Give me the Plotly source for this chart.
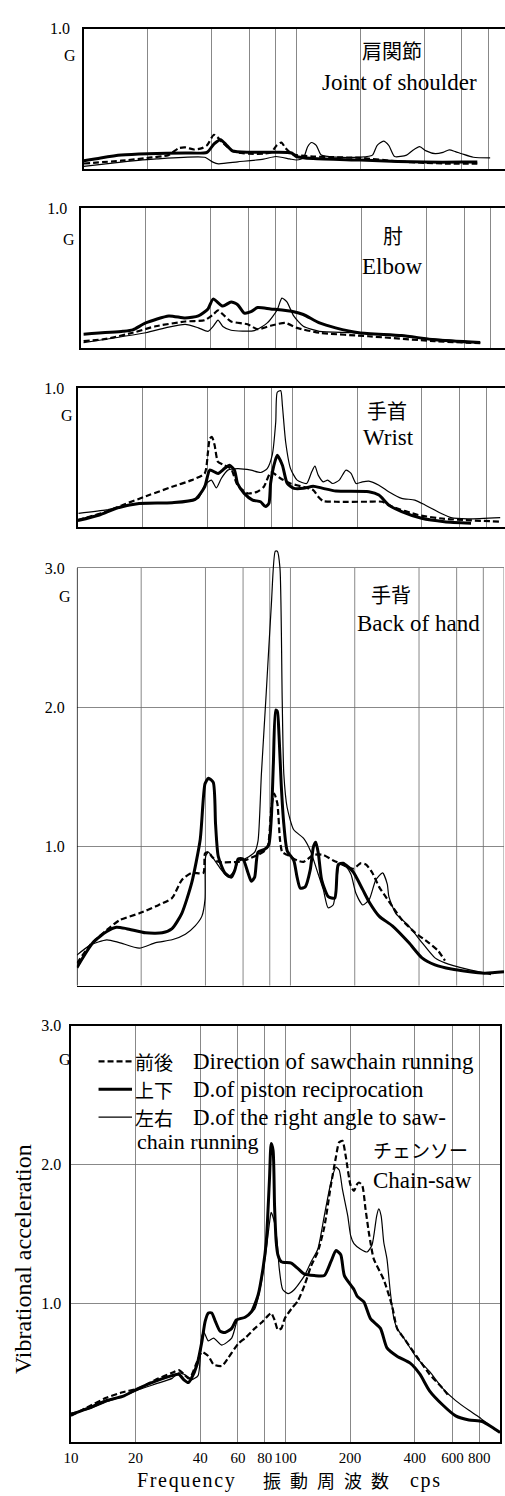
import plotly.graph_objects as go

# ---------------- data (frequency in cps, acceleration in G) ----------------
# Panel 1: 肩関節 Joint of shoulder
sh_f_dash = [10, 15, 20, 25, 28, 30, 33, 36, 38, 41, 45, 50, 55, 60, 70, 76, 81, 85, 89, 95, 100, 120, 150, 200, 300, 400, 500, 710]
sh_g_dash = [0.04, 0.06, 0.08, 0.10, 0.15, 0.155, 0.14, 0.15, 0.17, 0.245, 0.19, 0.13, 0.115, 0.11, 0.11, 0.12, 0.17, 0.19, 0.15, 0.11, 0.10, 0.09, 0.085, 0.08, 0.055, 0.045, 0.04, 0.04]
sh_f_thick = [10, 12, 15, 20, 30, 38, 41, 44, 47, 50, 60, 80, 95, 100, 120, 200, 300, 400, 600, 710]
sh_g_thick = [0.06, 0.08, 0.10, 0.11, 0.115, 0.12, 0.18, 0.21, 0.17, 0.13, 0.12, 0.12, 0.115, 0.09, 0.075, 0.065, 0.055, 0.05, 0.05, 0.05]
sh_f_thin = [10, 15, 22, 37, 40.5, 43, 53, 70, 80, 93, 100, 108, 113, 118, 124, 131, 153, 200, 228, 240, 257, 272, 290, 330, 350, 380, 408, 450, 490, 524, 560, 600, 680, 816]
sh_g_thin = [0.02, 0.05, 0.073, 0.085, 0.05, 0.038, 0.052, 0.071, 0.09, 0.073, 0.065, 0.08, 0.16, 0.19, 0.17, 0.10, 0.085, 0.085, 0.10, 0.17, 0.20, 0.17, 0.09, 0.10, 0.13, 0.16, 0.13, 0.11, 0.12, 0.137, 0.125, 0.11, 0.085, 0.08]

# Panel 2: 肘 Elbow
el_f_dash = [10.3, 13.1, 17.4, 22.2, 30.5, 37.6, 41.1, 43.3, 46.4, 49.8, 59.4, 66.1, 75.9, 88.8, 100.5, 128, 216, 438, 713]
el_g_dash = [0.05, 0.066, 0.11, 0.156, 0.19, 0.20, 0.24, 0.27, 0.23, 0.19, 0.17, 0.135, 0.16, 0.18, 0.145, 0.11, 0.085, 0.05, 0.035]
el_f_thick = [10.3, 15.7, 17.4, 20, 25.6, 30.5, 35.1, 38.9, 41.1, 45.6, 49.8, 53.4, 57.3, 61.6, 66.1, 75.9, 97.2, 107.7, 128, 152, 195, 308, 438, 713]
el_g_thick = [0.10, 0.12, 0.13, 0.18, 0.23, 0.215, 0.23, 0.28, 0.35, 0.30, 0.33, 0.31, 0.25, 0.26, 0.29, 0.28, 0.26, 0.24, 0.18, 0.145, 0.11, 0.09, 0.06, 0.04]
el_f_thin = [10.3, 20, 24.7, 30.5, 35.1, 38.9, 41.1, 43.3, 45.6, 49.8, 63.8, 73.3, 81.3, 85.7, 90.4, 97.2, 107.7, 128, 182, 308, 713]
el_g_thin = [0.04, 0.11, 0.145, 0.17, 0.145, 0.12, 0.155, 0.20, 0.155, 0.128, 0.125, 0.18, 0.27, 0.357, 0.33, 0.23, 0.156, 0.12, 0.11, 0.085, 0.04]

# Panel 3: 手首 Wrist
wr_f_dash = [10.0, 13.6, 16.2, 21.5, 27.5, 33.9, 39.0, 40.4, 41.2, 42.2, 43.4, 45.0, 48.2, 51.7, 55.5, 61.8, 68.6, 73.6, 79.1, 82.0, 88.2, 98, 112.4, 125, 131.9, 139, 159.6, 227, 262, 291, 386, 511, 930]
wr_g_dash = [0.052, 0.112, 0.16, 0.231, 0.29, 0.338, 0.386, 0.54, 0.636, 0.648, 0.588, 0.469, 0.445, 0.421, 0.302, 0.243, 0.255, 0.291, 0.393, 0.386, 0.35, 0.314, 0.29, 0.267, 0.219, 0.188, 0.183, 0.183, 0.183, 0.148, 0.088, 0.06, 0.04]
wr_f_thick = [10.0, 12.6, 15.1, 19.3, 27.5, 35.2, 39.0, 41.2, 45.0, 48.2, 50.9, 53.7, 55.5, 59.6, 65.2, 71.0, 74.9, 77.7, 79.1, 82.0, 85.0, 89.8, 94.6, 101.6, 112.4, 125, 139, 159.6, 227, 253, 281, 323, 400, 511, 680]
wr_g_thick = [0.048, 0.088, 0.136, 0.171, 0.176, 0.20, 0.29, 0.41, 0.386, 0.421, 0.445, 0.41, 0.314, 0.243, 0.195, 0.183, 0.148, 0.171, 0.314, 0.445, 0.517, 0.445, 0.314, 0.279, 0.279, 0.295, 0.279, 0.26, 0.255, 0.231, 0.16, 0.112, 0.064, 0.04, 0.029]
wr_f_thin = [10.07, 13.6, 16.2, 19.3, 27.5, 36.4, 39.0, 41.9, 44.2, 46.6, 50.0, 55.5, 64.1, 71.0, 76.3, 80.5, 83.6, 85.0, 88.2, 89.8, 93.0, 98, 105.2, 116.5, 123, 127.3, 131.9, 139, 146, 154, 165.3, 177.7, 187.6, 197.9, 212, 227, 253, 281, 323, 372, 415, 492, 548, 656, 930]
wr_g_thin = [0.10, 0.124, 0.148, 0.167, 0.176, 0.207, 0.302, 0.338, 0.283, 0.35, 0.41, 0.421, 0.41, 0.393, 0.421, 0.517, 0.755, 0.969, 0.981, 0.874, 0.612, 0.421, 0.338, 0.314, 0.398, 0.438, 0.374, 0.326, 0.338, 0.314, 0.338, 0.41, 0.386, 0.314, 0.326, 0.331, 0.302, 0.255, 0.207, 0.195, 0.16, 0.10, 0.069, 0.06, 0.069]

# Panel 4: 手背 Back of hand
bh_f_dash = [10, 11.5, 13.8, 15.8, 19.6, 23.4, 27.9, 31.0, 34.5, 39.1, 39.8, 41.3, 42.7, 45.9, 56.9, 61.0, 70.5, 75.8, 78.6, 81.4, 83.9, 86.8, 89.3, 91.5, 96.5, 107.4, 115.2, 128.2, 142.5, 158.5, 176.3, 196, 214, 226, 242, 260, 279, 300, 334, 384, 443, 492, 529]
bh_g_dash = [0.16, 0.29, 0.40, 0.47, 0.52, 0.57, 0.63, 0.76, 0.81, 0.81, 0.95, 0.96, 0.93, 0.89, 0.89, 0.90, 0.94, 0.97, 1.01, 1.28, 1.38, 1.31, 1.05, 0.96, 0.94, 0.90, 0.89, 0.94, 0.94, 0.90, 0.87, 0.84, 0.88, 0.87, 0.81, 0.71, 0.64, 0.57, 0.47, 0.38, 0.31, 0.25, 0.18]
bh_f_thick = [10, 11.9, 13.8, 15.3, 17.1, 21.0, 25.1, 27.9, 31.0, 34.5, 37.8, 39.8, 41.3, 43.5, 44.6, 45.9, 49.3, 52.9, 54.9, 56.9, 59.9, 63.3, 65.6, 68.0, 70.5, 75.8, 79.1, 81.4, 83.2, 85.3, 86.8, 88.4, 90.5, 93.1, 96.5, 103.6, 107.4, 111.2, 117.3, 123.7, 128.2, 131.4, 135.1, 140.0, 150.3, 161.3, 167.2, 176.3, 196, 218, 234, 260, 300, 358, 413, 475, 567, 809, 1000]
bh_g_thick = [0.13, 0.31, 0.39, 0.42, 0.41, 0.38, 0.38, 0.41, 0.52, 0.74, 1.05, 1.45, 1.49, 1.46, 1.16, 0.93, 0.81, 0.78, 0.83, 0.91, 0.91, 0.81, 0.75, 0.78, 0.96, 0.98, 1.01, 1.21, 1.6, 1.98, 1.97, 1.8, 1.45, 1.16, 0.97, 0.90, 0.78, 0.70, 0.71, 0.83, 1.0, 1.03, 0.95, 0.76, 0.64, 0.63, 0.87, 0.88, 0.82, 0.69, 0.60, 0.50, 0.43, 0.31, 0.20, 0.15, 0.12, 0.09, 0.10]
bh_f_thin = [10, 11.5, 13.8, 15.8, 19.6, 23.4, 27.9, 32.2, 35.8, 38.5, 39.8, 40.1, 41.3, 44.2, 47.6, 51.1, 54.9, 56.9, 61.0, 68.0, 70.5, 73.1, 77.0, 81.4, 84.9, 86.8, 89.3, 91.5, 93.1, 96.5, 103.6, 115, 124, 133, 142.5, 150, 158.5, 164, 170, 183, 192, 203, 218, 234, 251, 270, 284, 289, 311, 358, 413, 475, 529, 677, 868]
bh_g_thin = [0.22, 0.29, 0.33, 0.31, 0.27, 0.31, 0.33, 0.37, 0.43, 0.50, 0.62, 0.93, 0.96, 0.90, 0.83, 0.78, 0.83, 0.89, 0.91, 0.96, 1.04, 1.52, 2.1, 2.74, 3.12, 3.12, 3.0, 2.05, 1.52, 1.28, 1.12, 1.06, 0.97, 0.83, 0.69, 0.56, 0.58, 0.73, 0.87, 0.85, 0.80, 0.66, 0.58, 0.62, 0.76, 0.81, 0.73, 0.64, 0.52, 0.43, 0.31, 0.20, 0.164, 0.117, 0.08]

# Panel 5: チェンソー Chain-saw
cs_f_dash = [10, 12.2, 14.6, 17.4, 20.8, 24.8, 29.6, 31.8, 33.6, 35.2, 36.4, 38.7, 40.8, 43.7, 46.2, 50.5, 54.2, 60.2, 64.8, 71.9, 77.1, 82.7, 85.7, 88.9, 92.1, 95.6, 99.1, 106.4, 114.3, 122.6, 131.6, 141.3, 151.6, 162.7, 171.6, 177.8, 184.2, 190.8, 201, 208.4, 216, 220, 227.7, 235.9, 244.5, 248.8, 257.7, 287, 314, 331, 356, 408, 469, 539, 579]
cs_g_dash = [0.19, 0.26, 0.32, 0.36, 0.39, 0.45, 0.50, 0.52, 0.49, 0.46, 0.48, 0.58, 0.65, 0.62, 0.56, 0.55, 0.61, 0.71, 0.75, 0.82, 0.86, 0.91, 0.93, 0.88, 0.81, 0.82, 0.89, 0.96, 1.02, 1.13, 1.27, 1.37, 1.55, 1.85, 2.05, 2.16, 2.17, 2.06, 1.85, 1.81, 1.86, 1.87, 1.85, 1.68, 1.51, 1.44, 1.32, 1.17, 0.98, 0.82, 0.75, 0.62, 0.49, 0.39, 0.33]
cs_f_thick = [10, 12.2, 14.6, 17.4, 20.8, 24.8, 29.6, 31.8, 33.6, 35.2, 36.4, 38.7, 40.8, 42.2, 43.7, 45.3, 47.1, 49.5, 52.3, 56.1, 59.0, 64.8, 69.4, 74.5, 78.5, 81.3, 84.2, 85.7, 87.5, 88.9, 90.5, 92.1, 95.6, 106.4, 114.3, 122.6, 136.3, 151.6, 162.7, 172, 180.9, 188, 208.4, 216, 231.8, 248.8, 277, 297, 331, 381, 423, 469, 539, 621, 716, 826, 915, 1000]
cs_g_thick = [0.20, 0.25, 0.30, 0.33, 0.39, 0.44, 0.48, 0.49, 0.45, 0.43, 0.46, 0.56, 0.73, 0.87, 0.93, 0.93, 0.87, 0.80, 0.79, 0.82, 0.88, 0.90, 0.94, 1.06, 1.25, 1.44, 1.9, 2.15, 2.1, 1.7, 1.44, 1.35, 1.30, 1.29, 1.25, 1.21, 1.20, 1.20, 1.30, 1.38, 1.35, 1.20, 1.10, 1.05, 1.01, 0.89, 0.82, 0.68, 0.62, 0.57, 0.49, 0.37, 0.27, 0.19, 0.16, 0.15, 0.11, 0.07]
cs_f_thin = [10, 12.2, 14.6, 17.4, 20.8, 24.8, 29.6, 31.8, 33.6, 35.2, 36.4, 39.1, 40.8, 41.7, 43.7, 46.2, 50.5, 56.1, 60.2, 64.8, 71.9, 77.1, 81.3, 84.2, 85.7, 88.9, 91.4, 93.5, 97, 102.7, 110, 122.6, 131.6, 141.3, 151.6, 162.7, 171.6, 177.8, 184.2, 195, 201, 208.4, 224, 240, 253, 266, 272, 279, 287, 297, 308, 320, 331, 356, 408, 469, 539, 621, 716, 800, 915, 1000]
cs_g_thin = [0.21, 0.24, 0.29, 0.33, 0.38, 0.42, 0.46, 0.50, 0.49, 0.47, 0.45, 0.48, 0.77, 0.79, 0.73, 0.75, 0.70, 0.75, 0.89, 0.90, 0.96, 1.15, 1.39, 1.58, 1.655, 1.58, 1.44, 1.25, 1.10, 1.07, 1.10, 1.20, 1.30, 1.39, 1.63, 1.87, 1.98, 1.96, 1.82, 1.63, 1.49, 1.43, 1.39, 1.37, 1.42, 1.63, 1.68, 1.63, 1.44, 1.32, 1.08, 0.89, 0.82, 0.75, 0.61, 0.51, 0.39, 0.30, 0.23, 0.18, 0.107, 0.07]

grid_freqs = [20, 40, 60, 80, 100, 200, 400, 600, 800]
x_tick_vals = [10, 20, 40, 60, 80, 100, 200, 400, 600, 800]
x_tick_text = ["10", "20", "40", "60", "80", "100", "200", "400", "600", "800"]

# ---------------- layout geometry (pixels) ----------------
W, H = 505, 1496
SERIF = "Liberation Serif"
CJK = "Noto Sans CJK JP"

def px(x):
    return x / W

def py(y):
    return 1 - y / H

# left, right, top(y at ymax), bottom(y at 0), px per decade, ymax, y-label gap
geo = [
    dict(l=77, r=505, t=21, b=162, dec=216, ymax=1.0, gap=9),
    dict(l=74, r=505, t=201, b=342, dec=219, ymax=1.0, gap=9),
    dict(l=71, r=505, t=382, b=522, dec=218, ymax=1.0, gap=9),
    dict(l=70, r=504, t=535, b=983, dec=217, ymax=3.2, gap=8),
    dict(l=64, r=500, t=1023, b=1442, dec=218, ymax=3.0, gap=5),
]

series = [
    (sh_f_dash, sh_g_dash, sh_f_thick, sh_g_thick, sh_f_thin, sh_g_thin),
    (el_f_dash, el_g_dash, el_f_thick, el_g_thick, el_f_thin, el_g_thin),
    (wr_f_dash, wr_g_dash, wr_f_thick, wr_g_thick, wr_f_thin, wr_g_thin),
    (bh_f_dash, bh_g_dash, bh_f_thick, bh_g_thick, bh_f_thin, bh_g_thin),
    (cs_f_dash, cs_g_dash, cs_f_thick, cs_g_thick, cs_f_thin, cs_g_thin),
]

fig = go.Figure()
GRID = "#6a6a6a"
layout = dict(
    width=W, height=H, margin=dict(l=0, r=0, t=0, b=0),
    paper_bgcolor="white", plot_bgcolor="white", showlegend=False,
    hovermode=False, font=dict(family=SERIF, color="black", size=16),
)
shapes = []

for i, (g, s) in enumerate(zip(geo, series), start=1):
    xa, ya = f"x{i}", f"y{i}"
    fd, gd, ft, gt, fn, gn = s
    sp = dict(shape="spline", smoothing=0.6)
    fig.add_trace(go.Scatter(x=fd, y=gd, xaxis=xa, yaxis=ya, mode="lines",
                             line=dict(color="black", width=2.2, dash="6px,3px", **sp)))
    fig.add_trace(go.Scatter(x=ft, y=gt, xaxis=xa, yaxis=ya, mode="lines",
                             line=dict(color="black", width=3.0, **sp)))
    fig.add_trace(go.Scatter(x=fn, y=gn, xaxis=xa, yaxis=ya, mode="lines",
                             line=dict(color="black", width=1.2, **sp)))

    xmax = 1 + (g["r"] - g["l"]) / g["dec"]
    xkey = "xaxis" if i == 1 else f"xaxis{i}"
    ykey = "yaxis" if i == 1 else f"yaxis{i}"
    xaxis = dict(
        type="log", range=[1, xmax], domain=[px(g["l"]), px(g["r"])], anchor=ya,
        showline=True, linecolor="black", linewidth=1.5, mirror=(i != 4),
        zeroline=False, fixedrange=True,
        tickvals=grid_freqs, showticklabels=False, ticks="",
        showgrid=(i != 4), gridcolor=GRID, gridwidth=0.8,
    )
    if i == 5:
        xaxis.update(tickvals=x_tick_vals, ticktext=x_tick_text, showticklabels=True,
                     tickangle=0, ticks="outside", ticklen=1, tickcolor="rgba(0,0,0,0)",
                     tickfont=dict(family=SERIF, size=15, color="black"))
    yaxis = dict(
        range=[0, g["ymax"]], domain=[py(g["b"]), py(g["t"])], anchor=xa,
        zeroline=False, fixedrange=True,
        ticks="outside", ticklen=g["gap"], tickcolor="rgba(0,0,0,0)",
        tickfont=dict(family=SERIF, size=16, color="black"),
    )
    if i <= 3:
        yaxis.update(tickvals=[1.0], ticktext=["1.0"], showgrid=False,
                     showline=True, linecolor="black", linewidth=1.5)
    elif i == 4:
        yaxis.update(tickvals=[1.0, 2.0, 3.0], ticktext=["1.0", "2.0", "3.0"],
                     showgrid=True, gridcolor=GRID, gridwidth=0.8, showline=False)
        # frame and vertical grid stop at 3.0 G (peak overshoots the frame)
        shapes.append(dict(type="line", xref=xa, yref=ya, x0=10, x1=10, y0=0, y1=3.0,
                           line=dict(color="black", width=1.5)))
        for f in grid_freqs + [1000]:
            shapes.append(dict(type="line", xref=xa, yref=ya, x0=f, x1=f, y0=0, y1=3.0,
                               line=dict(color=GRID, width=0.8), layer="below"))
    else:
        yaxis.update(tickvals=[1.0, 2.0, 3.0], ticktext=["1.0", "2.0", "3.0"],
                     showgrid=True, gridcolor=GRID, gridwidth=0.8,
                     showline=True, linecolor="black", linewidth=1.5, mirror=True)
    layout[xkey] = xaxis
    layout[ykey] = yaxis

ann = []

def text(x, y, s, size, family=SERIF, anchor="center", angle=0):
    ann.append(dict(x=px(x), y=py(y), xref="paper", yref="paper", text=s, showarrow=False,
                    xanchor=anchor, yanchor="middle", textangle=angle, borderpad=0,
                    font=dict(family=family, size=size, color="black")))

# panel titles
text(390, 43, "肩関節", 20, CJK)
text(398, 75, "Joint of shoulder", 23)
text(391, 229, "肘", 20, CJK)
text(390, 260, "Elbow", 23)
text(385, 405, "手首", 20, CJK)
text(387, 432, "Wrist", 23)
text(389, 590, "手背", 20, CJK)
text(417, 619, "Back of hand", 23)

# unit "G" under the top tick
text(63, 48, "G", 16)
text(62, 233, "G", 16)
text(60, 410, "G", 16)
text(58, 592, "G", 16)
text(58, 1057, "G", 16)

# legend (panel 5)
text(128, 1059, "前後", 19, CJK, "left")
text(187, 1059, "Direction of sawchain running", 23, SERIF, "left")
text(128, 1087, "上下", 19, CJK, "left")
text(187, 1087, "D.of piston reciprocation", 23, SERIF, "left")
text(128, 1115, "左右", 19, CJK, "left")
text(187, 1115, "D.of the right angle to saw-", 23, SERIF, "left")
text(130, 1140, "chain running", 22, SERIF, "left")
text(370, 1148, "チェンソー", 19, CJK, "left")
text(370, 1179, "Chain-saw", 23, SERIF, "left")

shapes.append(dict(type="line", xref="paper", yref="paper", x0=px(92), x1=px(126),
                   y0=py(1059), y1=py(1059), line=dict(color="black", width=2.2, dash="6px,3px")))
shapes.append(dict(type="line", xref="paper", yref="paper", x0=px(92), x1=px(126),
                   y0=py(1087), y1=py(1087), line=dict(color="black", width=3)))
shapes.append(dict(type="line", xref="paper", yref="paper", x0=px(92), x1=px(126),
                   y0=py(1115), y1=py(1115), line=dict(color="black", width=1.2)))

# axis titles
text(16, 1258, "Vibrational acceleration", 24, SERIF, "center", -90)
text(181, 1480, "F\u200ar\u200ae\u200aq\u200au\u200ae\u200an\u200ac\u200ay", 20)
text(323, 1480, "振\u2002動\u2002周\u2002波\u2002数", 18, CJK)
text(424, 1480, "c\u200ap\u200as", 20)

layout["annotations"] = ann
layout["shapes"] = shapes
fig.update_layout(**layout)
fig.write_html(
    "out.html",
    config={"displayModeBar": False, "staticPlot": True},
    post_script="document.body.style.margin='0';document.body.style.overflow='hidden';",
)
